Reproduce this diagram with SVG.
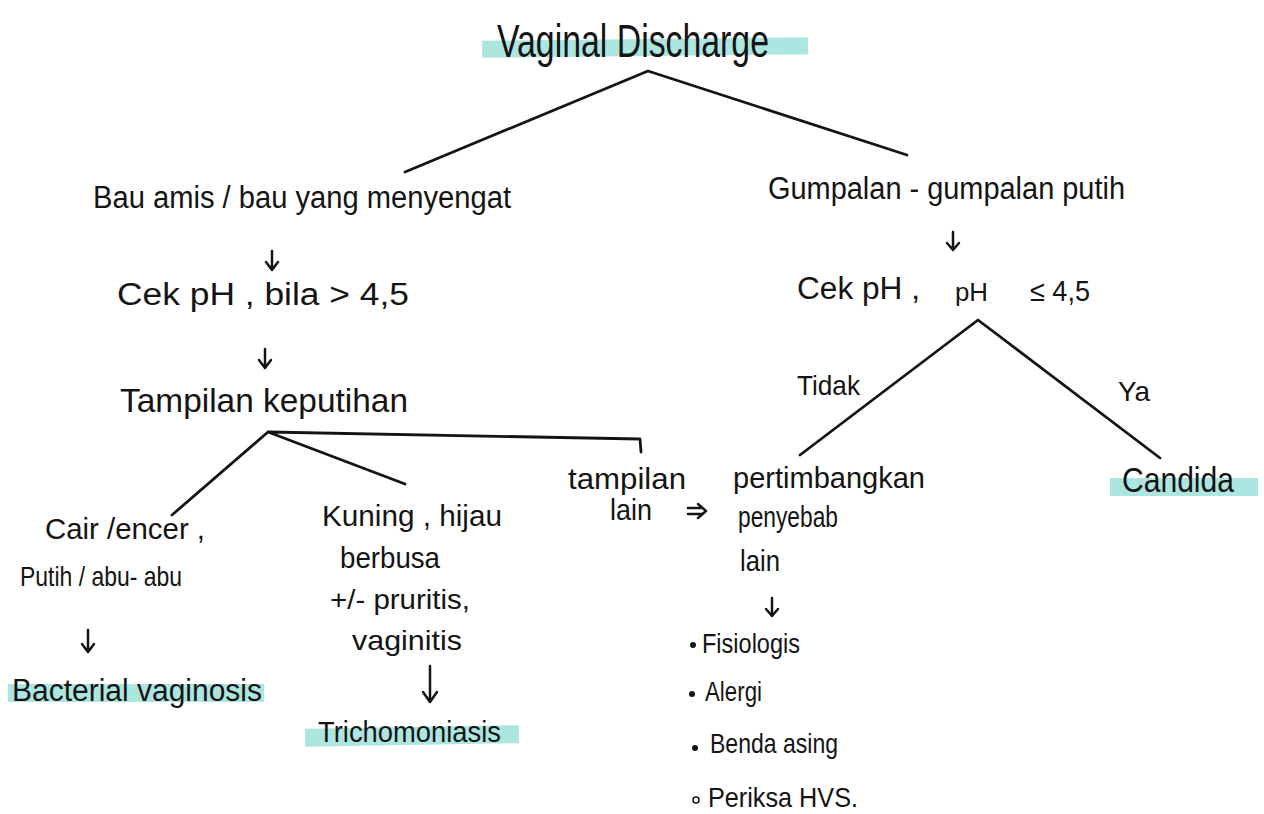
<svg xmlns="http://www.w3.org/2000/svg" width="1264" height="814" viewBox="0 0 1264 814">
<style>
text{font-family:"Liberation Sans","DejaVu Sans",sans-serif;fill:#141414;}
.hl{fill:#9fe2dc;opacity:0.85;}
.ln{fill:none;stroke:#141414;stroke-width:2.8;stroke-linecap:round;stroke-linejoin:round;}
.ar{fill:none;stroke:#141414;stroke-width:2.5;stroke-linecap:round;stroke-linejoin:round;}
</style>
<rect width="1264" height="814" fill="#ffffff"/>
<g id="connectors">
<path class="ln" d="M405,172 L648,71 L907,155"/>
<path class="ar" d="M272,251 L272,270 M266,262 L272,270 L278,262"/>
<path class="ar" d="M265,349 L265,368 M259,360 L265,368 L271,360"/>
<path class="ln" d="M172,515 L268,432 L405,484 M268,432 L640,439 L641,452"/>
<path class="ar" d="M88,630 L88,652 M82,644 L88,652 L94,644"/>
<path class="ar" d="M430,666 L430,702 M423,692 L430,702 L437,692"/>
<path class="ar" d="M688,508 L702,508 M688,514 L702,514 M698,504 L706,511 L698,518"/>
<path class="ar" d="M772,598 L772,616 M766,609 L772,616 L778,609"/>
<path class="ar" d="M953,232 L953,250 M947,243 L953,250 L959,243"/>
<path class="ln" d="M800,455 L978,320 L1160,458"/>
<text x="797" y="395" font-size="28" textLength="63" lengthAdjust="spacingAndGlyphs">Tidak</text>
<text x="1118" y="401" font-size="28" textLength="32" lengthAdjust="spacingAndGlyphs">Ya</text>
</g>
<g id="n-title">
<rect class="hl" x="482" y="39" width="326" height="17" transform="rotate(-0.6 645 47)"/>
<text x="497" y="57" font-size="46" textLength="272" lengthAdjust="spacingAndGlyphs">Vaginal  Discharge</text>
</g>
<g id="n-bau">
<text x="93" y="208" font-size="31" textLength="418" lengthAdjust="spacingAndGlyphs">Bau amis / bau  yang  menyengat</text>
</g>
<g id="n-cekph1">
<text x="117" y="305" font-size="31" textLength="292" lengthAdjust="spacingAndGlyphs">Cek pH  , bila  &gt; 4,5</text>
</g>
<g id="n-tampilan">
<text x="120" y="412" font-size="33" textLength="288" lengthAdjust="spacingAndGlyphs">Tampilan keputihan</text>
</g>
<g id="n-cair">
<text x="45" y="539" font-size="30" textLength="160" lengthAdjust="spacingAndGlyphs">Cair /encer ,</text>
<text x="20" y="586" font-size="28" textLength="162" lengthAdjust="spacingAndGlyphs">Putih / abu- abu</text>
</g>
<g id="n-bv">
<rect class="hl" x="8" y="684" width="256" height="18"/>
<text x="12" y="701" font-size="31" textLength="250" lengthAdjust="spacingAndGlyphs">Bacterial  vaginosis</text>
</g>
<g id="n-kuning">
<text x="322" y="526" font-size="29" textLength="180" lengthAdjust="spacingAndGlyphs">Kuning , hijau</text>
<text x="340" y="568" font-size="29" textLength="100" lengthAdjust="spacingAndGlyphs">berbusa</text>
<text x="330" y="609" font-size="27" textLength="140" lengthAdjust="spacingAndGlyphs">+/- pruritis,</text>
<text x="352" y="650" font-size="28" textLength="110" lengthAdjust="spacingAndGlyphs">vaginitis</text>
</g>
<g id="n-trich">
<rect class="hl" x="305" y="727" width="214" height="18" transform="rotate(-1 412 735)"/>
<text x="318" y="742" font-size="29" textLength="183" lengthAdjust="spacingAndGlyphs">Trichomoniasis</text>
</g>
<g id="n-tampilan-lain">
<text x="568" y="489" font-size="29" textLength="118" lengthAdjust="spacingAndGlyphs">tampilan</text>
<text x="610" y="520" font-size="29" textLength="42" lengthAdjust="spacingAndGlyphs">lain</text>
</g>
<g id="n-pertimbangkan">
<text x="733" y="488" font-size="29" textLength="192" lengthAdjust="spacingAndGlyphs">pertimbangkan</text>
<text x="738" y="527" font-size="29" textLength="100" lengthAdjust="spacingAndGlyphs">penyebab</text>
<text x="740" y="571" font-size="29" textLength="40" lengthAdjust="spacingAndGlyphs">lain</text>
</g>
<g id="n-list">
<circle cx="693" cy="645" r="3" fill="#141414"/>
<text x="702" y="653" font-size="28" textLength="98" lengthAdjust="spacingAndGlyphs">Fisiologis</text>
<circle cx="692" cy="694" r="3" fill="#141414"/>
<text x="705" y="701" font-size="28" textLength="57" lengthAdjust="spacingAndGlyphs">Alergi</text>
<circle cx="695" cy="748" r="3" fill="#141414"/>
<text x="710" y="753" font-size="28" textLength="128" lengthAdjust="spacingAndGlyphs">Benda  asing</text>
<circle cx="696" cy="800" r="3" fill="none" stroke="#141414" stroke-width="1.5"/>
<text x="708" y="807" font-size="28" textLength="150" lengthAdjust="spacingAndGlyphs">Periksa   HVS.</text>
</g>
<g id="n-gumpalan">
<text x="768" y="199" font-size="31" textLength="357" lengthAdjust="spacingAndGlyphs">Gumpalan - gumpalan  putih</text>
</g>
<g id="n-cekph2">
<text x="797" y="299" font-size="31" textLength="123" lengthAdjust="spacingAndGlyphs">Cek  pH ,</text>
<text x="955" y="301" font-size="25" textLength="33" lengthAdjust="spacingAndGlyphs">pH</text>
<text x="1030" y="301" font-size="29" textLength="60" lengthAdjust="spacingAndGlyphs">≤ 4,5</text>
</g>
<g id="n-candida">
<rect class="hl" x="1110" y="478" width="148" height="18"/>
<text x="1122" y="492" font-size="35" textLength="112" lengthAdjust="spacingAndGlyphs">Candida</text>
</g>
</svg>
